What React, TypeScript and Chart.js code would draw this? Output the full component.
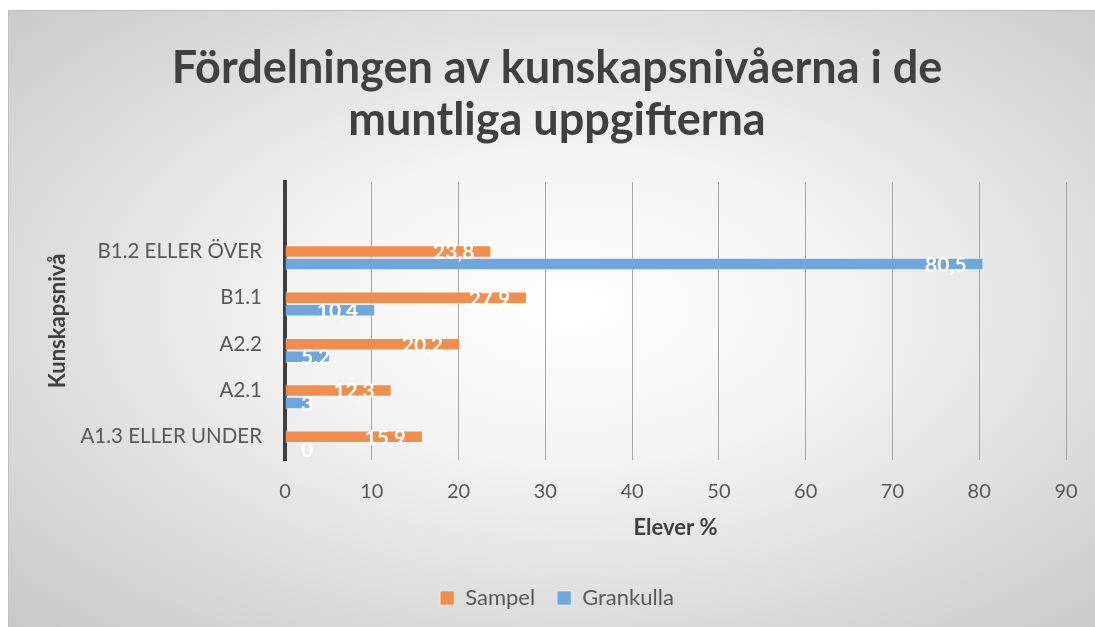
import React, { useEffect, useRef } from "react";
import { Chart, registerables } from "chart.js";

Chart.register(...registerables);

const categories = ["", "B1.2 ELLER ÖVER", "B1.1", "A2.2", "A2.1", "A1.3 ELLER UNDER"];
const blankSeries: (number | null)[] = [null, null, null, null, null, null];
const sampel: (number | null)[] = [null, 23.8, 27.9, 20.2, 12.3, 15.9];
const grankulla: (number | null)[] = [null, 80.5, 10.4, 5.2, 3, 0];
const seriesNames = ["Sampel", "Grankulla"];
const titleLines = ["Fördelningen av kunskapsnivåerna i de", "muntliga uppgifterna"];
const xTitle = "Elever %";
const yTitle = "Kunskapsnivå";
const xMin = 0;
const xMax = 90;
const xStep = 10;

const FONT = "Lato";

const fmt = (v: number) => String(v).replace(".", ",");

const labelPlugin = {
  id: "barLabels",
  afterDatasetsDraw(chart: any) {
    const ctx = chart.ctx;
    const x0 = chart.scales.x.getPixelForValue(0);
    ctx.save();
    ctx.font = `bold 21px ${FONT}`;
    ctx.fillStyle = "#ffffff";
    ctx.textBaseline = "middle";
    ctx.textAlign = "left";
    chart.data.datasets.forEach((ds: any, i: number) => {
      const meta = chart.getDatasetMeta(i);
      meta.data.forEach((el: any, j: number) => {
        const v = ds.data[j];
        if (v === null || v === undefined) return;
        const t = fmt(v);
        const w = ctx.measureText(t).width;
        const left = Math.max(x0 + 16, el.x - 17 - w);
        ctx.fillText(t, left, el.y + 1);
      });
    });
    ctx.restore();
  },
};

export default function App() {
  const ref = useRef<HTMLCanvasElement | null>(null);
  useEffect(() => {
    if (!ref.current) return;
    const common = {
      borderColor: "rgba(255,255,255,0.45)",
      borderWidth: 1,
      categoryPercentage: 0.81,
      barPercentage: 1,
    };
    const chart = new Chart(ref.current, {
      type: "bar",
      data: {
        labels: categories,
        datasets: [
          { label: "", data: blankSeries, backgroundColor: "rgba(0,0,0,0)", ...common, borderWidth: 0 },
          { label: seriesNames[0], data: sampel, backgroundColor: "#EF8E4E", ...common },
          { label: seriesNames[1], data: grankulla, backgroundColor: "#6FA6DB", ...common },
        ],
      },
      options: {
        indexAxis: "y",
        responsive: false,
        animation: false,
        layout: { padding: { left: 10, right: 0, top: 0, bottom: 8 } },
        plugins: {
          title: {
            display: true,
            text: titleLines,
            color: "#404040",
            font: { family: FONT, size: 45, weight: "bold", lineHeight: 1.16 },
            padding: { top: 31, bottom: 35.6 },
          },
          legend: {
            display: true,
            position: "bottom",
            labels: {
              color: "#595959",
              font: { family: FONT, size: 22 },
              boxWidth: 14,
              boxHeight: 14,
              padding: 22,
              filter: (item: any) => item.text !== "",
            },
          },
          tooltip: { enabled: false },
        },
        scales: {
          x: {
            type: "linear",
            min: xMin,
            max: xMax,
            ticks: {
              stepSize: xStep,
              color: "#595959",
              font: { family: FONT, size: 20 },
              padding: 20,
            },
            grid: { color: "#A6A6A6", lineWidth: 1, drawTicks: false },
            border: { display: false },
            title: {
              display: true,
              text: xTitle,
              color: "#404040",
              font: { family: FONT, size: 22, weight: "bold" },
              padding: { top: 0, bottom: 24 },
            },
            afterFit: (s: any) => {
              s.height = 105;
              s.paddingRight = 29;
            },
          },
          y: {
            type: "category",
            ticks: {
              color: "#595959",
              font: { family: FONT, size: 20.5 },
              padding: 23,
            },
            grid: { display: false, drawTicks: false },
            border: { display: true, color: "#404040", width: 4 },
            title: {
              display: true,
              text: yTitle,
              color: "#404040",
              font: { family: FONT, size: 22, weight: "bold" },
              padding: { top: 26, bottom: 0 },
            },
            afterFit: (s: any) => {
              s.width = 266;
            },
          },
        },
      },
      plugins: [labelPlugin],
    } as any);
    return () => chart.destroy();
  }, []);

  return (
    <div
      style={{
        position: "absolute",
        left: 8,
        top: 10,
        width: 1087,
        height: 617,
        boxSizing: "border-box",
        borderLeft: "1px solid #BFBFBF",
        borderTop: "1px solid #BFBFBF",
        background:
          "radial-gradient(ellipse farthest-corner at 52% 48%, #ffffff 0%, #f3f3f3 35%, #c8c8c8 100%)",
        overflow: "hidden",
      }}
    >
      <canvas ref={ref} width={1086} height={616} style={{ display: "block", width: 1086, height: 616 }} />
    </div>
  );
}
